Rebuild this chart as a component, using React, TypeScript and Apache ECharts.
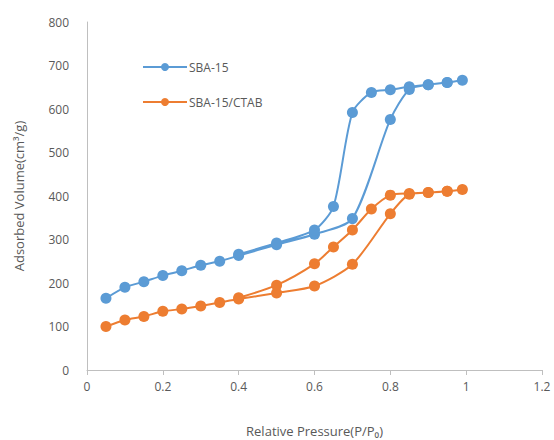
import React, { useEffect, useRef } from "react";
import * as echarts from "echarts";

const seriesNames = ["SBA-15", "SBA-15/CTAB"];
const xTickLabels = ["0", "0.2", "0.4", "0.6", "0.8", "1", "1.2"];

// SBA-15: adsorption branch then desorption branch
const sbaPressure = [0.05, 0.1, 0.15, 0.2, 0.25, 0.3, 0.35, 0.4, 0.5, 0.6, 0.7, 0.8, 0.85, 0.9, 0.95, 0.99, 0.95, 0.9, 0.85, 0.8, 0.75, 0.7, 0.65, 0.6, 0.5, 0.4];
const sbaVolume = [165, 190, 203, 217, 228, 241, 250, 263, 288, 312, 348, 576, 645, 656, 661, 666, 661, 656, 651, 644, 638, 592, 376, 322, 292, 266];

// SBA-15/CTAB: adsorption branch then desorption branch
const ctabPressure = [0.05, 0.1, 0.15, 0.2, 0.25, 0.3, 0.35, 0.4, 0.5, 0.6, 0.7, 0.8, 0.85, 0.9, 0.95, 0.99, 0.95, 0.9, 0.85, 0.8, 0.75, 0.7, 0.65, 0.6, 0.5, 0.4];
const ctabVolume = [100, 115, 123, 135, 140, 147, 155, 163, 177, 193, 243, 359, 404, 408, 411, 415, 411, 408, 406, 402, 370, 322, 283, 244, 195, 166];

const colors = ["#5B9BD5", "#ED7D31"];

export default function App() {
  const ref = useRef<HTMLDivElement>(null);
  useEffect(() => {
    if (!ref.current) return;
    const chart = echarts.init(ref.current, undefined, { renderer: "svg" });
    const font = "'Open Sans', 'DejaVu Sans', sans-serif";
    const mk = (xs: number[], ys: number[]) => xs.map((x, i) => [x, ys[i]]);
    chart.setOption({
      animation: false,
      grid: { left: 87, right: 12, top: 22, bottom: 70, outerBoundsMode: "none" },
      legend: {
        orient: "vertical",
        left: 137,
        top: 56,
        itemGap: 23,
        itemWidth: 44,
        itemHeight: 10,
        textStyle: { color: "#595959", fontSize: 12, fontFamily: font, padding: [0, 0, 0, -3] },
        data: seriesNames,
      },
      xAxis: {
        type: "value",
        min: 0,
        max: 1.2,
        interval: 0.2,
        name: "Relative Pressure(P/P\u2080)",
        nameLocation: "middle",
        nameGap: 54,
        nameTextStyle: { color: "#595959", fontSize: 13, fontFamily: font },
        axisLine: { show: true, lineStyle: { color: "#BFBFBF", width: 1 } },
        axisTick: { show: true, length: 5, lineStyle: { color: "#BFBFBF" } },
        splitLine: { show: false },
        axisLabel: {
          color: "#595959",
          fontSize: 12,
          fontFamily: font,
          margin: 10,
          formatter: (v: number) => xTickLabels[Math.round(v / 0.2)] ?? String(v),
        },
      },
      yAxis: {
        type: "value",
        min: 0,
        max: 800,
        interval: 100,
        name: "Adsorbed Volume(cm\u00b3/g)",
        nameLocation: "middle",
        nameGap: 62,
        nameTextStyle: { color: "#595959", fontSize: 13, fontFamily: font },
        axisLine: { show: true, lineStyle: { color: "#BFBFBF", width: 1 } },
        axisTick: { show: false },
        splitLine: { show: false },
        axisLabel: { color: "#595959", fontSize: 12, fontFamily: font, margin: 18 },
      },
      series: [
        {
          name: seriesNames[0],
          type: "line",
          data: mk(sbaPressure, sbaVolume),
          smooth: 0.25,
          symbol: "circle",
          symbolSize: 11,
          itemStyle: { color: colors[0] },
          lineStyle: { color: colors[0], width: 2 },
        },
        {
          name: seriesNames[1],
          type: "line",
          data: mk(ctabPressure, ctabVolume),
          smooth: 0.25,
          symbol: "circle",
          symbolSize: 11,
          itemStyle: { color: colors[1] },
          lineStyle: { color: colors[1], width: 2 },
        },
      ],
    });
    return () => chart.dispose();
  }, []);
  return <div ref={ref} style={{ width: 554, height: 440, position: "absolute", left: 0, top: 0 }} />;
}
